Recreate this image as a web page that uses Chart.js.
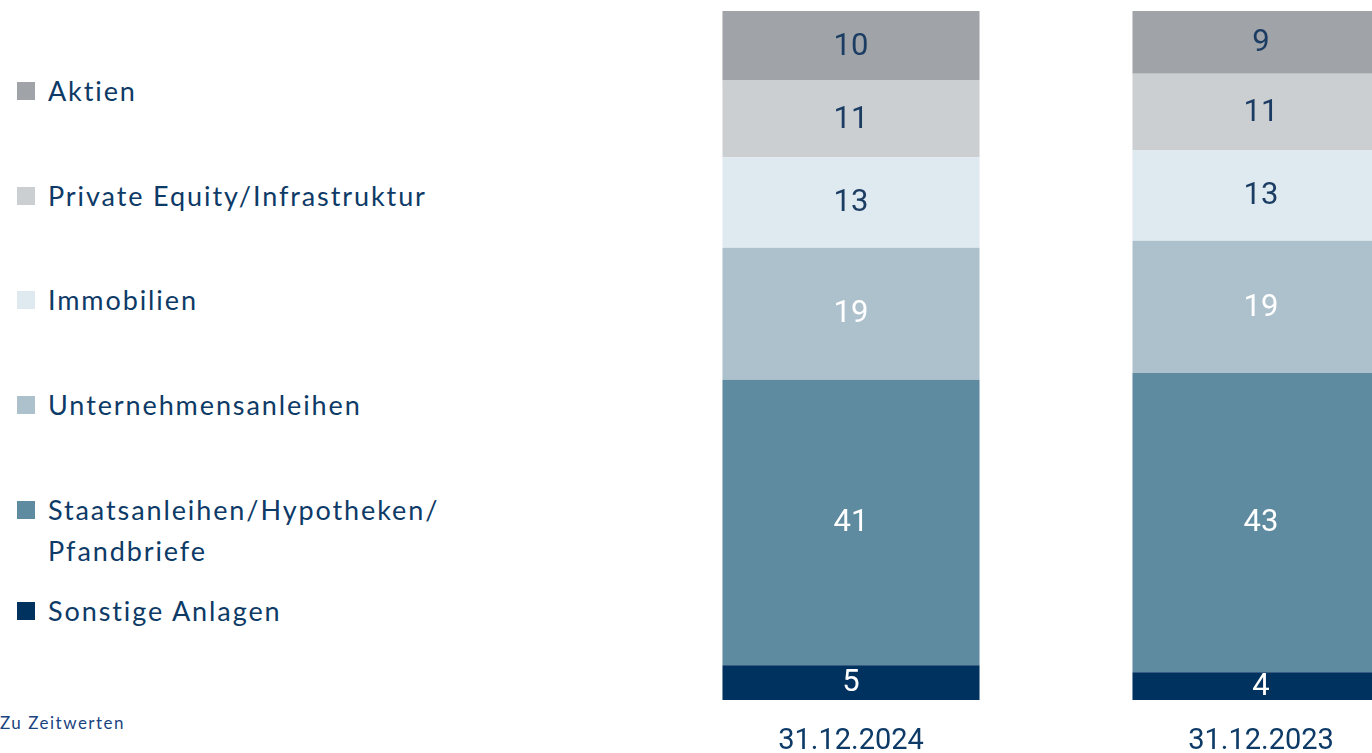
<!DOCTYPE html>
<html lang="de">
<head>
<meta charset="utf-8">
<script src="https://cdn.jsdelivr.net/npm/chart.js@4/dist/chart.umd.min.js"></script>
<style>
  html, body { margin: 0; padding: 0; background: #fff; }
  body { width: 1372px; height: 753px; overflow: hidden; position: relative; font-family: "Lato", "Open Sans", sans-serif; color: #0d3a66; }
  .legend { position: absolute; left: 17px; top: 0; }
  .item { position: absolute; left: 0; white-space: nowrap; font-size: 27px; line-height: 41px; letter-spacing: 1.9px; }
  .item i { position: absolute; left: 0; top: 12px; width: 18px; height: 18px; }
  .item span { display: block; padding-left: 31px; }
  .note { position: absolute; left: 0; top: 712px; font-size: 17px; letter-spacing: 1.5px; color: #1a4480; }
  .wrap { position: absolute; left: 646px; top: 0; width: 820px; height: 753px; }
</style>
</head>
<body>
<div class="legend" id="legend"></div>
<div class="note">Zu Zeitwerten</div>
<div class="wrap"><canvas id="myChart" width="820" height="753"></canvas></div>
<script>
const dates = ["31.12.2024", "31.12.2023"];
const categories = ["Sonstige Anlagen", "Staatsanleihen/Hypotheken/ Pfandbriefe", "Unternehmensanleihen", "Immobilien", "Private Equity/Infrastruktur", "Aktien"];
const sonstige = [5, 4];
const staats = [41, 43];
const unternehmen = [19, 19];
const immobilien = [13, 13];
const privateEquity = [11, 11];
const aktien = [10, 9];

const colors = ["#00325f", "#5f8ba0", "#adc1cc", "#dfe9f0", "#cbcfd2", "#a0a4a8"];
const labelColors = ["#ffffff", "#ffffff", "#ffffff", "#1b3d63", "#1b3d63", "#1b3d63"];
const series = [sonstige, staats, unternehmen, immobilien, privateEquity, aktien];

// legend on the left, top to bottom
const legendTops = [70, 175, 279, 384, 489, 590];
const legend = document.getElementById("legend");
for (let i = categories.length - 1; i >= 0; i--) {
    const row = document.createElement("div");
    row.className = "item";
    row.style.top = legendTops[categories.length - 1 - i] + "px";
    const text = categories[i].replace("/ ", "/<br>");
    row.innerHTML = '<i style="background:' + colors[i] + '"></i><span>' + text + "</span>";
    legend.appendChild(row);
}

const valueLabels = {
    id: "valueLabels",
    afterDatasetsDraw(chart) {
        const ctx = chart.ctx;
        ctx.save();
        ctx.font = '31px "Roboto", sans-serif';
        ctx.textAlign = "center";
        ctx.textBaseline = "middle";
        chart.data.datasets.forEach((ds, i) => {
            chart.getDatasetMeta(i).data.forEach((bar, j) => {
                const mid = (bar.y + bar.base) / 2;
                ctx.fillStyle = labelColors[i];
                ctx.fillText(ds.data[j], bar.x, mid + 1);
            });
        });
        ctx.restore();
    },
};

new Chart(document.getElementById("myChart"), {
    type: "bar",
    data: {
        labels: dates,
        datasets: series.map((data, i) => ({
            label: categories[i],
            data,
            backgroundColor: colors[i],
            barPercentage: 0.627,
            categoryPercentage: 1,
        })),
    },
    options: {
        responsive: false,
        animation: false,
        layout: { padding: { top: 11, left: 0, right: 0, bottom: 0 } },
        plugins: { legend: { display: false }, tooltip: { enabled: false } },
        scales: {
            x: {
                stacked: true,
                grid: { display: false, drawTicks: false },
                border: { display: false },
                ticks: { color: "#0d3a66", font: { family: "Roboto", size: 29 }, padding: 24 },
                afterFit(scale) { scale.height = 53; },
            },
            y: { stacked: true, display: false, min: 0, max: 99 },
        },
    },
    plugins: [valueLabels],
});
</script>
</body>
</html>
